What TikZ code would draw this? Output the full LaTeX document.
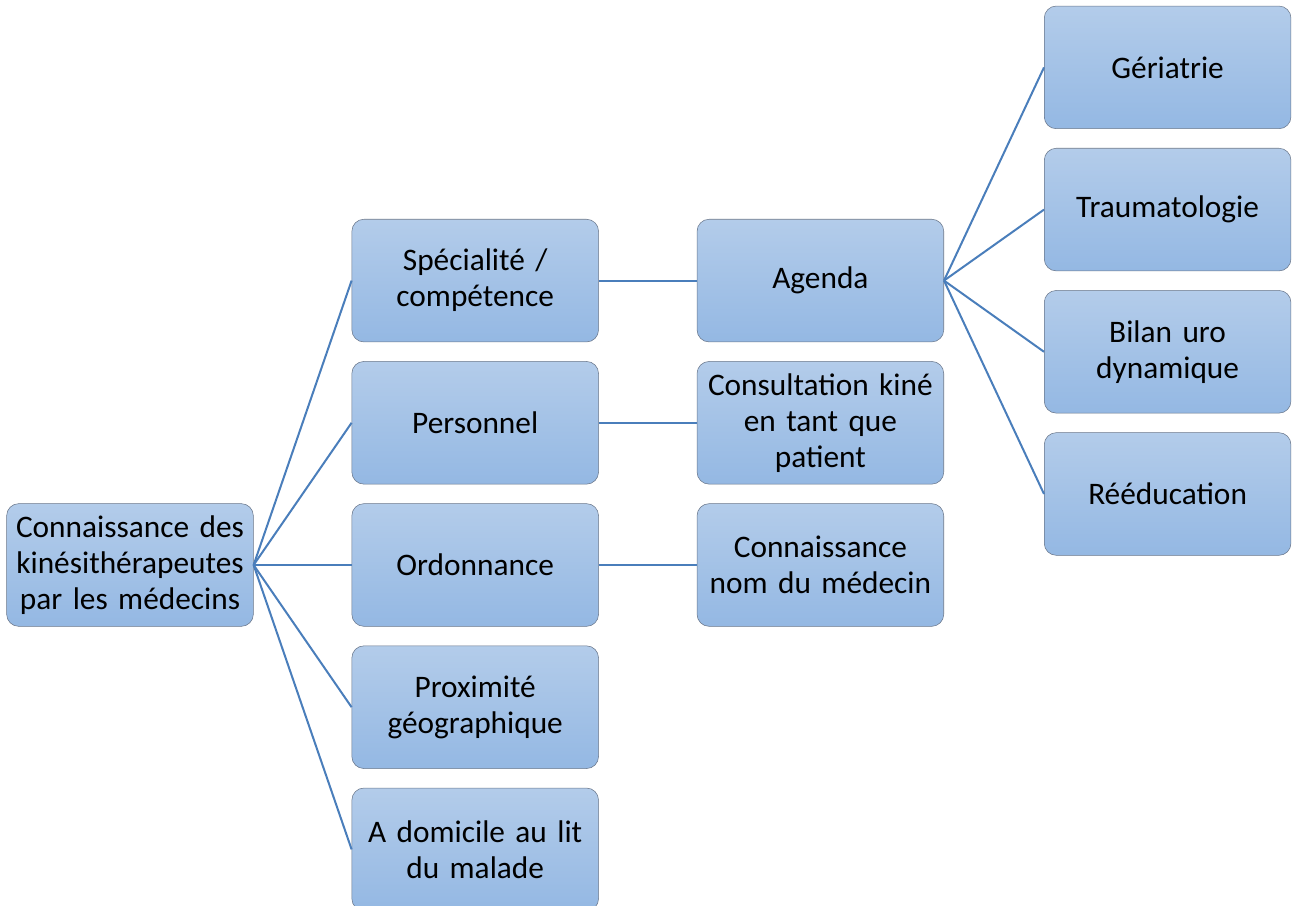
\documentclass[tikz,border=0pt]{standalone}
\usepackage{fontspec}
\setmainfont{Carlito}
\usepackage{xcolor}
\usetikzlibrary{positioning}
\definecolor{boxtop}{RGB}{179,204,234}
\definecolor{boxbot}{RGB}{148,184,227}
\definecolor{boxline}{RGB}{105,118,138}
\definecolor{link}{RGB}{74,126,187}
\begin{document}
\begin{tikzpicture}[
every node/.style = {shape=rectangle,
	draw=boxline, thin,
	rounded corners=9pt,
	top color=boxtop, bottom color=boxbot,
	minimum width=185pt, minimum height=92pt,
	inner xsep=0pt, text width=185pt,
	align=center,
	font=\fontsize{23.5}{27}\selectfont
	},
node distance=14.25pt and 73.5pt,
link/.style = {draw=link, line width=1.5pt}
]
\useasboundingbox (-97.5pt,-255.75pt) rectangle (873.75pt,423.75pt);
\node (root) {Connaissance des\\kinésithérapeutes\\par les médecins};
\node [right=of root] (ord) {Ordonnance};
\node [above=of ord] (pers) {Personnel};
\node [above=of pers] (spec) {Spécialité /\\compétence};
\node [below=of ord] (prox) {Proximité\\géographique};
\node [below=of prox] (dom) {A domicile au lit\\du malade};
\node [right=of spec] (agenda) {Agenda};
\node [right=of pers] (consult) {Consultation kiné\\en tant que\\patient};
\node [right=of ord] (nom) {Connaissance\\nom du médecin};
\node [right=75pt of agenda,yshift=53.25pt] (trau) {Traumatologie};
\node [above=of trau] (geri) {Gériatrie};
\node [below=of trau] (bilan) {Bilan uro\\dynamique};
\node [below=of bilan] (reed) {Rééducation};
\path[link]
(root.east) edge (spec.west) edge (pers.west) edge (ord.west)
	edge (prox.west) edge (dom.west)
(spec.east) edge (agenda.west)
(pers.east) edge (consult.west)
(ord.east) edge (nom.west)
(agenda.east) edge (geri.west) edge (trau.west) edge (bilan.west)
	edge (reed.west);
\end{tikzpicture}
\end{document}
